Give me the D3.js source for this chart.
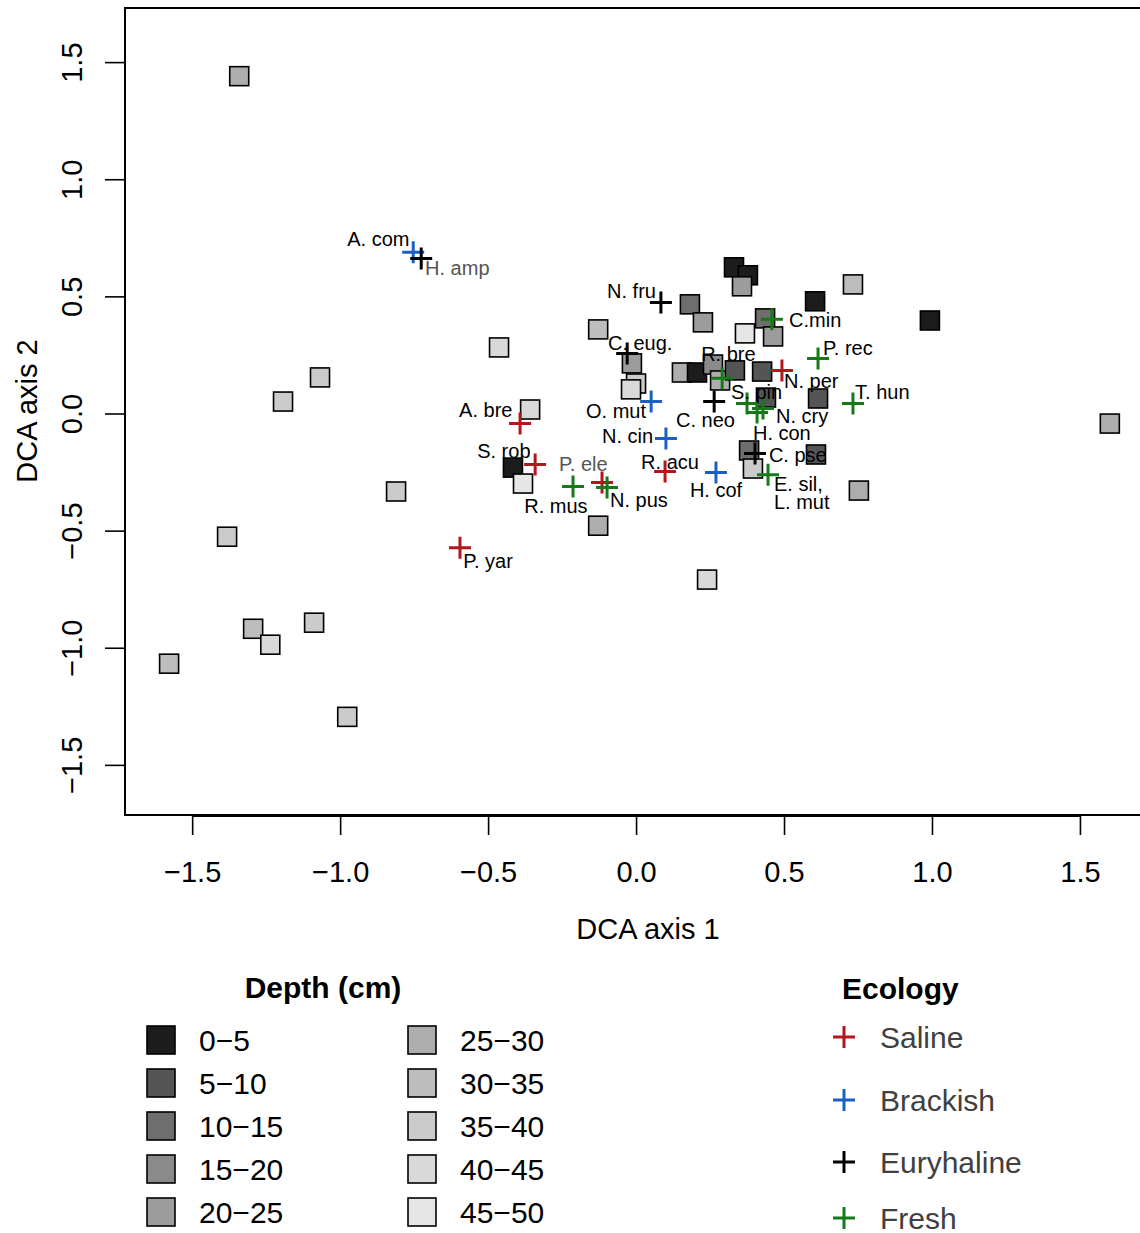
<!DOCTYPE html>
<html>
<head>
<meta charset="utf-8">
<script src="https://cdn.jsdelivr.net/npm/d3@7"></script>
<style>
  body { margin: 0; background: #fff; }
  svg text { font-family: "Liberation Sans", Arial, Helvetica, sans-serif; }
</style>
</head>
<body>
<svg id="chart" width="1140" height="1233"></svg>
<script>
// depth classes and their greys
var depthClasses = ["0\u22125","5\u221210","10\u221215","15\u221220","20\u221225",
                    "25\u221230","30\u221235","35\u221240","40\u221245","45\u221250"];
var depthGreys = ["#1c1c1c","#555555","#6e6e6e","#8a8a8a","#9c9c9c",
                  "#adadad","#bdbdbd","#cbcbcb","#d9d9d9","#e6e6e6"];

// samples: DCA1, DCA2, depth class index
var sampleX = [-1.341,-0.463,-1.068,-1.193,-0.811,-1.382,-1.294,-1.236,-1.088,-1.578,
               -0.976,-0.358,-0.416,-0.382,-0.128, 0.240,-0.128,-0.014, 0.000,-0.017,
                0.182, 0.226, 0.331, 0.378, 0.358, 0.605, 0.733, 0.993, 1.601, 0.368,
                0.436, 0.463, 0.155, 0.206, 0.260, 0.284, 0.334, 0.426, 0.439, 0.615,
                0.382, 0.395, 0.608, 0.753];
var sampleY = [ 1.440, 0.282, 0.154, 0.051,-0.333,-0.526,-0.919,-0.987,-0.893,-1.068,
               -1.295, 0.017,-0.231,-0.299,-0.479,-0.709, 0.359, 0.214, 0.128, 0.103,
                0.466, 0.389, 0.624, 0.590, 0.543, 0.479, 0.551, 0.397,-0.043, 0.342,
                0.406, 0.329, 0.175, 0.175, 0.209, 0.141, 0.184, 0.179, 0.068, 0.064,
               -0.158,-0.235,-0.175,-0.329];
var sampleDepth = [5,8,7,7,7,7,6,8,7,6,
                   7,8,0,9,5,8,6,4,7,8,
                   2,4,0,0,4,0,6,0,5,9,
                   2,4,5,0,3,5,1,1,1,1,
                   2,7,1,5];

// species: DCA scores, ecology group, label
var ecologyGroups = ["Saline","Brackish","Euryhaline","Fresh"];
var ecologyColors = ["#b3161d","#1c5fc4","#000000","#157a17"];

var speciesNames = ["A. com","H. amp","N. fru","C. eug.","R. bre","N. per","C.min","P. rec",
                    "S. pin","T. hun","N. cry","O. mut","C. neo","H. con","N. cin","A. bre",
                    "S. rob","P. ele","R. acu","C. pse","H. cof","E. sil,\nL. mut","R. mus","N. pus","P. yar"];
var speciesX = [-0.753,-0.726, 0.084,-0.030, 0.291, 0.493, 0.459, 0.615,
                 0.375, 0.733, 0.429, 0.051, 0.264, 0.409, 0.101,-0.392,
                -0.341,-0.115, 0.098, 0.402, 0.270, 0.446,-0.213,-0.098,-0.595];
var speciesY = [ 0.688, 0.662, 0.474, 0.256, 0.150, 0.184, 0.402, 0.235,
                 0.043, 0.043, 0.021, 0.051, 0.051, 0.004,-0.107,-0.043,
                -0.218,-0.295,-0.248,-0.171,-0.252,-0.261,-0.312,-0.316,-0.573];
var speciesEco = [1,2,2,2,3,0,3,3,
                  3,3,3,1,2,3,1,0,
                  0,0,0,2,1,3,3,3,0];
// label anchor (left edge, middle) in DCA units
var labelX = [-0.976,-0.713,-0.098,-0.095, 0.220, 0.500, 0.517, 0.632,
               0.321, 0.740, 0.473,-0.169, 0.135, 0.395,-0.115,-0.598,
              -0.537,-0.260, 0.017, 0.449, 0.182, 0.466,-0.378,-0.088,-0.584];
var labelY = [ 0.744, 0.620, 0.521, 0.299, 0.256, 0.137, 0.397, 0.278,
               0.090, 0.090,-0.009, 0.009,-0.026,-0.085,-0.094, 0.013,
              -0.158,-0.214,-0.209,-0.179,-0.325,-0.303,-0.397,-0.368,-0.628];
var greyLabels = ["H. amp","P. ele"];

var axisTicks = [-1.5,-1.0,-0.5,0.0,0.5,1.0,1.5];

var svg = d3.select('#chart');

var x = d3.scaleLinear().domain([-1.727, 1.730]).range([125, 1148]);
var y = d3.scaleLinear().domain([-1.714, 1.731]).range([815, 8]);

var fmt = d3.format(".1f");

// x axis
var xAxis = svg.append('g')
  .attr('transform', 'translate(0,' + y.range()[0] + ')')
  .call(d3.axisBottom(x).tickValues(axisTicks).tickSize(20).tickPadding(26).tickFormat(fmt));
xAxis.select('.domain').remove();
xAxis.selectAll('line').attr('stroke', '#000').attr('stroke-width', 1.6);
xAxis.selectAll('text').attr('font-size', 29).attr('fill', '#000');
xAxis.append('line')
  .attr('x1', x(-1.5)).attr('x2', x(1.5))
  .attr('y1', 1).attr('y2', 1)
  .attr('stroke', '#000').attr('stroke-width', 2);

// y axis
var yAxis = svg.append('g')
  .attr('transform', 'translate(' + x.range()[0] + ',0)')
  .call(d3.axisLeft(y).tickValues(axisTicks).tickSize(20).tickFormat(fmt));
yAxis.select('.domain').remove();
yAxis.selectAll('line').attr('stroke', '#000').attr('stroke-width', 1.6);
yAxis.selectAll('text')
  .attr('font-size', 29).attr('fill', '#000')
  .attr('text-anchor', 'middle').attr('dy', 0)
  .attr('x', 0)
  .attr('transform', 'translate(-43,0) rotate(-90)');

// box
svg.append('rect')
  .attr('x', x.range()[0]).attr('y', y.range()[1])
  .attr('width', x.range()[1] - x.range()[0])
  .attr('height', y.range()[0] - y.range()[1])
  .attr('fill', 'none').attr('stroke', '#000').attr('stroke-width', 2);

// axis titles
svg.append('text')
  .attr('x', 648).attr('y', 939)
  .attr('text-anchor', 'middle').attr('font-size', 29)
  .text('DCA axis 1');
svg.append('text')
  .attr('transform', 'translate(37,' + 411 + ') rotate(-90)')
  .attr('text-anchor', 'middle').attr('font-size', 29)
  .text('DCA axis 2');

// samples
var sq = 19;
svg.append('g').selectAll('rect')
  .data(sampleX)
  .enter()
  .append('rect')
  .attr('x', function(d){ return x(d) - sq/2; })
  .attr('y', function(d,i){ return y(sampleY[i]) - sq/2; })
  .attr('width', sq).attr('height', sq)
  .attr('fill', function(d,i){ return depthGreys[sampleDepth[i]]; })
  .attr('stroke', '#000').attr('stroke-width', 1.6);

// species crosses
var half = 11;
function cross(g, cx, cy, col, h) {
  g.append('path')
    .attr('d', 'M' + (cx - h) + ',' + cy + 'H' + (cx + h) + 'M' + cx + ',' + (cy - h) + 'V' + (cy + h))
    .attr('stroke', col).attr('stroke-width', 3).attr('fill', 'none');
}
var crosses = svg.append('g');
speciesX.forEach(function(d, i){
  cross(crosses, x(d), y(speciesY[i]), ecologyColors[speciesEco[i]], half);
});

// species labels
var labels = svg.append('g').attr('font-size', 20);
speciesNames.forEach(function(name, i){
  var lines = name.split('\n');
  var t = labels.append('text')
    .attr('x', x(labelX[i]))
    .attr('y', y(labelY[i]))
    .attr('fill', greyLabels.indexOf(name) >= 0 ? '#555' : '#000');
  lines.forEach(function(l, j){
    t.append('tspan')
      .attr('x', x(labelX[i]))
      .attr('dy', j === 0 ? '0.35em' : '0.88em')
      .text(l);
  });
});

// depth legend
var dl = svg.append('g');
dl.append('text')
  .attr('x', 323).attr('y', 998)
  .attr('text-anchor', 'middle')
  .attr('font-size', 30).attr('font-weight', 'bold')
  .text('Depth (cm)');
var rowY = [1040, 1083, 1126, 1169, 1212];
depthClasses.forEach(function(name, i){
  var col = Math.floor(i / 5), row = i % 5;
  var cx = col === 0 ? 161 : 422;
  dl.append('rect')
    .attr('x', cx - 14).attr('y', rowY[row] - 14)
    .attr('width', 28).attr('height', 28)
    .attr('fill', depthGreys[i])
    .attr('stroke', '#000').attr('stroke-width', 1.6);
  dl.append('text')
    .attr('x', cx + 38).attr('y', rowY[row])
    .attr('dy', '0.36em')
    .attr('font-size', 30)
    .text(name);
});

// ecology legend
var el = svg.append('g');
el.append('text')
  .attr('x', 842).attr('y', 999)
  .attr('font-size', 30).attr('font-weight', 'bold')
  .text('Ecology');
var ecoRowY = [1037, 1100, 1162, 1218];
ecologyGroups.forEach(function(name, i){
  cross(el, 844, ecoRowY[i], ecologyColors[i], 11);
  el.append('text')
    .attr('x', 880).attr('y', ecoRowY[i])
    .attr('dy', '0.36em')
    .attr('font-size', 30)
    .attr('fill', '#404040')
    .text(name);
});
</script>
</body>
</html>
